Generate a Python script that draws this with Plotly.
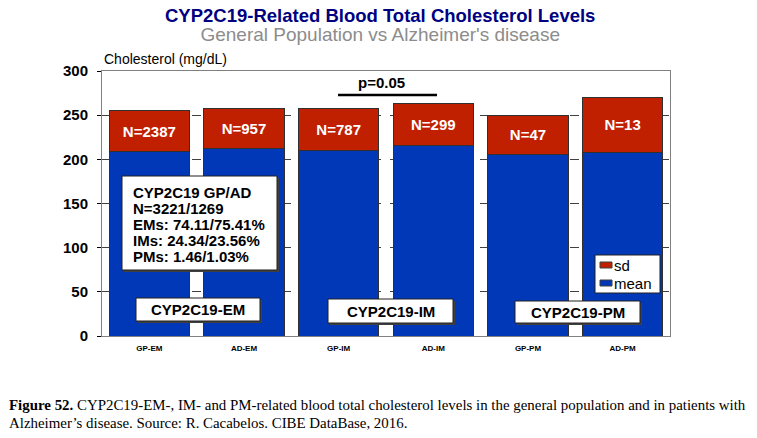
import plotly.graph_objects as go

categories = ["GP-EM", "AD-EM", "GP-IM", "AD-IM", "GP-PM", "AD-PM"]
mean_values = [209, 212, 210, 216, 205.5, 208]
sd_values = [46, 45, 47, 47, 44.5, 62]
n_labels = ["N=2387", "N=957", "N=787", "N=299", "N=47", "N=13"]
y_ticks = [0, 50, 100, 150, 200, 250, 300]
group_labels = ["CYP2C19-EM", "CYP2C19-IM", "CYP2C19-PM"]
info_lines = ["CYP2C19 GP/AD", "N=3221/1269", "EMs: 74.11/75.41%", "IMs: 24.34/23.56%", "PMs: 1.46/1.03%"]
legend_names = ["sd", "mean"]
title_text = "CYP2C19-Related Blood Total Cholesterol Levels"
subtitle_text = "General Population vs Alzheimer's disease"

RED = "#C02000"
BLUE = "#0038B8"

# screen geometry (body margin removed via post_script)
W, H = 757, 438
PL, PR, PT, PB = 102, 670, 71, 336   # plot area in px
ml, mt = PL, PT
mr, mb = W - PR, H - PB
pw, ph = PR - PL, PB - PT

def px(x):
    return (x - PL) / pw

def py(y):
    return (PB - y) / ph

font = "Liberation Sans, Arial, sans-serif"
serif = "Liberation Serif, Times New Roman, serif"

fig = go.Figure()
fig.add_trace(go.Bar(
    x=categories, y=mean_values, name="mean",
    marker=dict(color=BLUE, line=dict(color="#303030", width=1)),
    width=0.85,
))
fig.add_trace(go.Bar(
    x=categories, y=sd_values, name="sd",
    marker=dict(color=RED, line=dict(color="#303030", width=1)),
    width=0.85,
    text=n_labels, textposition="inside", insidetextanchor="middle",
    textfont=dict(color="white", size=15, family=font, weight="bold"),
    textangle=0,
))

anns = []
shapes = []

def ann(text, x, y, size, color="black", xa="center", ya="middle", fam=font, **kw):
    anns.append(dict(text=text, x=px(x), y=py(y), xref="paper", yref="paper", showarrow=False,
                     xanchor=xa, yanchor=ya, font=dict(size=size, color=color, family=fam), **kw))

def box(x0, y0, x1, y1, shadow=True):
    if shadow:
        shapes.append(dict(type="rect", xref="paper", yref="paper", layer="above",
                           x0=px(x0 + 2), x1=px(x1 + 2), y0=py(y0 + 2), y1=py(y1 + 2),
                           fillcolor="#404040", line=dict(width=0)))
    shapes.append(dict(type="rect", xref="paper", yref="paper", layer="above",
                       x0=px(x0), x1=px(x1), y0=py(y0), y1=py(y1),
                       fillcolor="white", line=dict(color="#202020", width=1)))

ann('<span style="font-size:18.5px;color:#000080"><b>%s</b></span><br>'
    '<span style="font-size:19px;color:#8C8C8C">%s</span>' % (title_text, subtitle_text),
    380, 25, 14.6)
ann("Cholesterol (mg/dL)", 102, 59, 14, xa="left")

# p-value
ann("<b>p=0.05</b>", 381, 82, 15)
shapes.append(dict(type="line", xref="paper", yref="paper", x0=px(338), x1=px(437), y0=py(95), y1=py(95),
                   line=dict(color="black", width=2.5)))

# info box
box(122, 176, 277, 270)
for i, line in enumerate(info_lines):
    ann("<b>%s</b>" % line, 131, 192 + 16 * i, 15, xa="left")

# group label boxes
group_boxes = [(136, 298, 260, 321), (328, 299, 453, 323), (515, 301, 640, 323)]
for lab, (x0, y0, x1, y1) in zip(group_labels, group_boxes):
    box(x0, y0, x1, y1)
    ann("<b>%s</b>" % lab, (x0 + x1) / 2, (y0 + y1) / 2, 15)

# legend
box(595, 255, 660, 293, shadow=False)
legend_colors = [RED, BLUE]
for i, (nm, col) in enumerate(zip(legend_names, legend_colors)):
    yc = 265 + 18 * i
    shapes.append(dict(type="rect", xref="paper", yref="paper", layer="above",
                       x0=px(600), x1=px(612), y0=py(yc - 3), y1=py(yc + 3),
                       fillcolor=col, line=dict(color="#404040", width=1)))
    ann(nm, 612, yc, 15, xa="left")

# caption
ann("<b>Figure 52.</b> CYP2C19-EM-, IM- and PM-related blood total cholesterol levels in the general population and in patients with",
    7, 405, 14.9, xa="left", fam=serif)
ann("Alzheimer\u2019s disease. Source: R. Cacabelos. CIBE DataBase, 2016.", 7, 423, 14.9, xa="left", fam=serif)

fig.update_layout(
    width=W, height=H,
    margin=dict(l=ml, r=mr, t=mt, b=mb),
    barmode="stack",
    plot_bgcolor="white", paper_bgcolor="white",
    font=dict(family=font, color="black"),
    annotations=anns,
    shapes=shapes,
    showlegend=False,
)
fig.update_xaxes(
    tickvals=categories, ticktext=["<b>%s</b>" % c for c in categories],
    tickfont=dict(size=8, family=font, color="black"),
    showline=True, linecolor="#808080", linewidth=1, mirror=True,
    ticks="", range=[-0.5, 5.5], ticklabelstandoff=4,
)
fig.update_yaxes(
    range=[0, 300], tickvals=y_ticks, ticktext=["<b>%d</b>" % v for v in y_ticks],
    tickfont=dict(size=15, family=font, color="black"),
    showline=True, linecolor="#808080", linewidth=1, mirror=True,
    ticks="outside", ticklen=4, tickcolor="black", ticklabelstandoff=6,
    showgrid=True, gridcolor="#404040", griddash="dash", gridwidth=1,
    zeroline=False,
)
fig.write_html("out.html", config={"displayModeBar": False},
               post_script="document.body.style.margin='0px';document.body.style.overflow='hidden';")
